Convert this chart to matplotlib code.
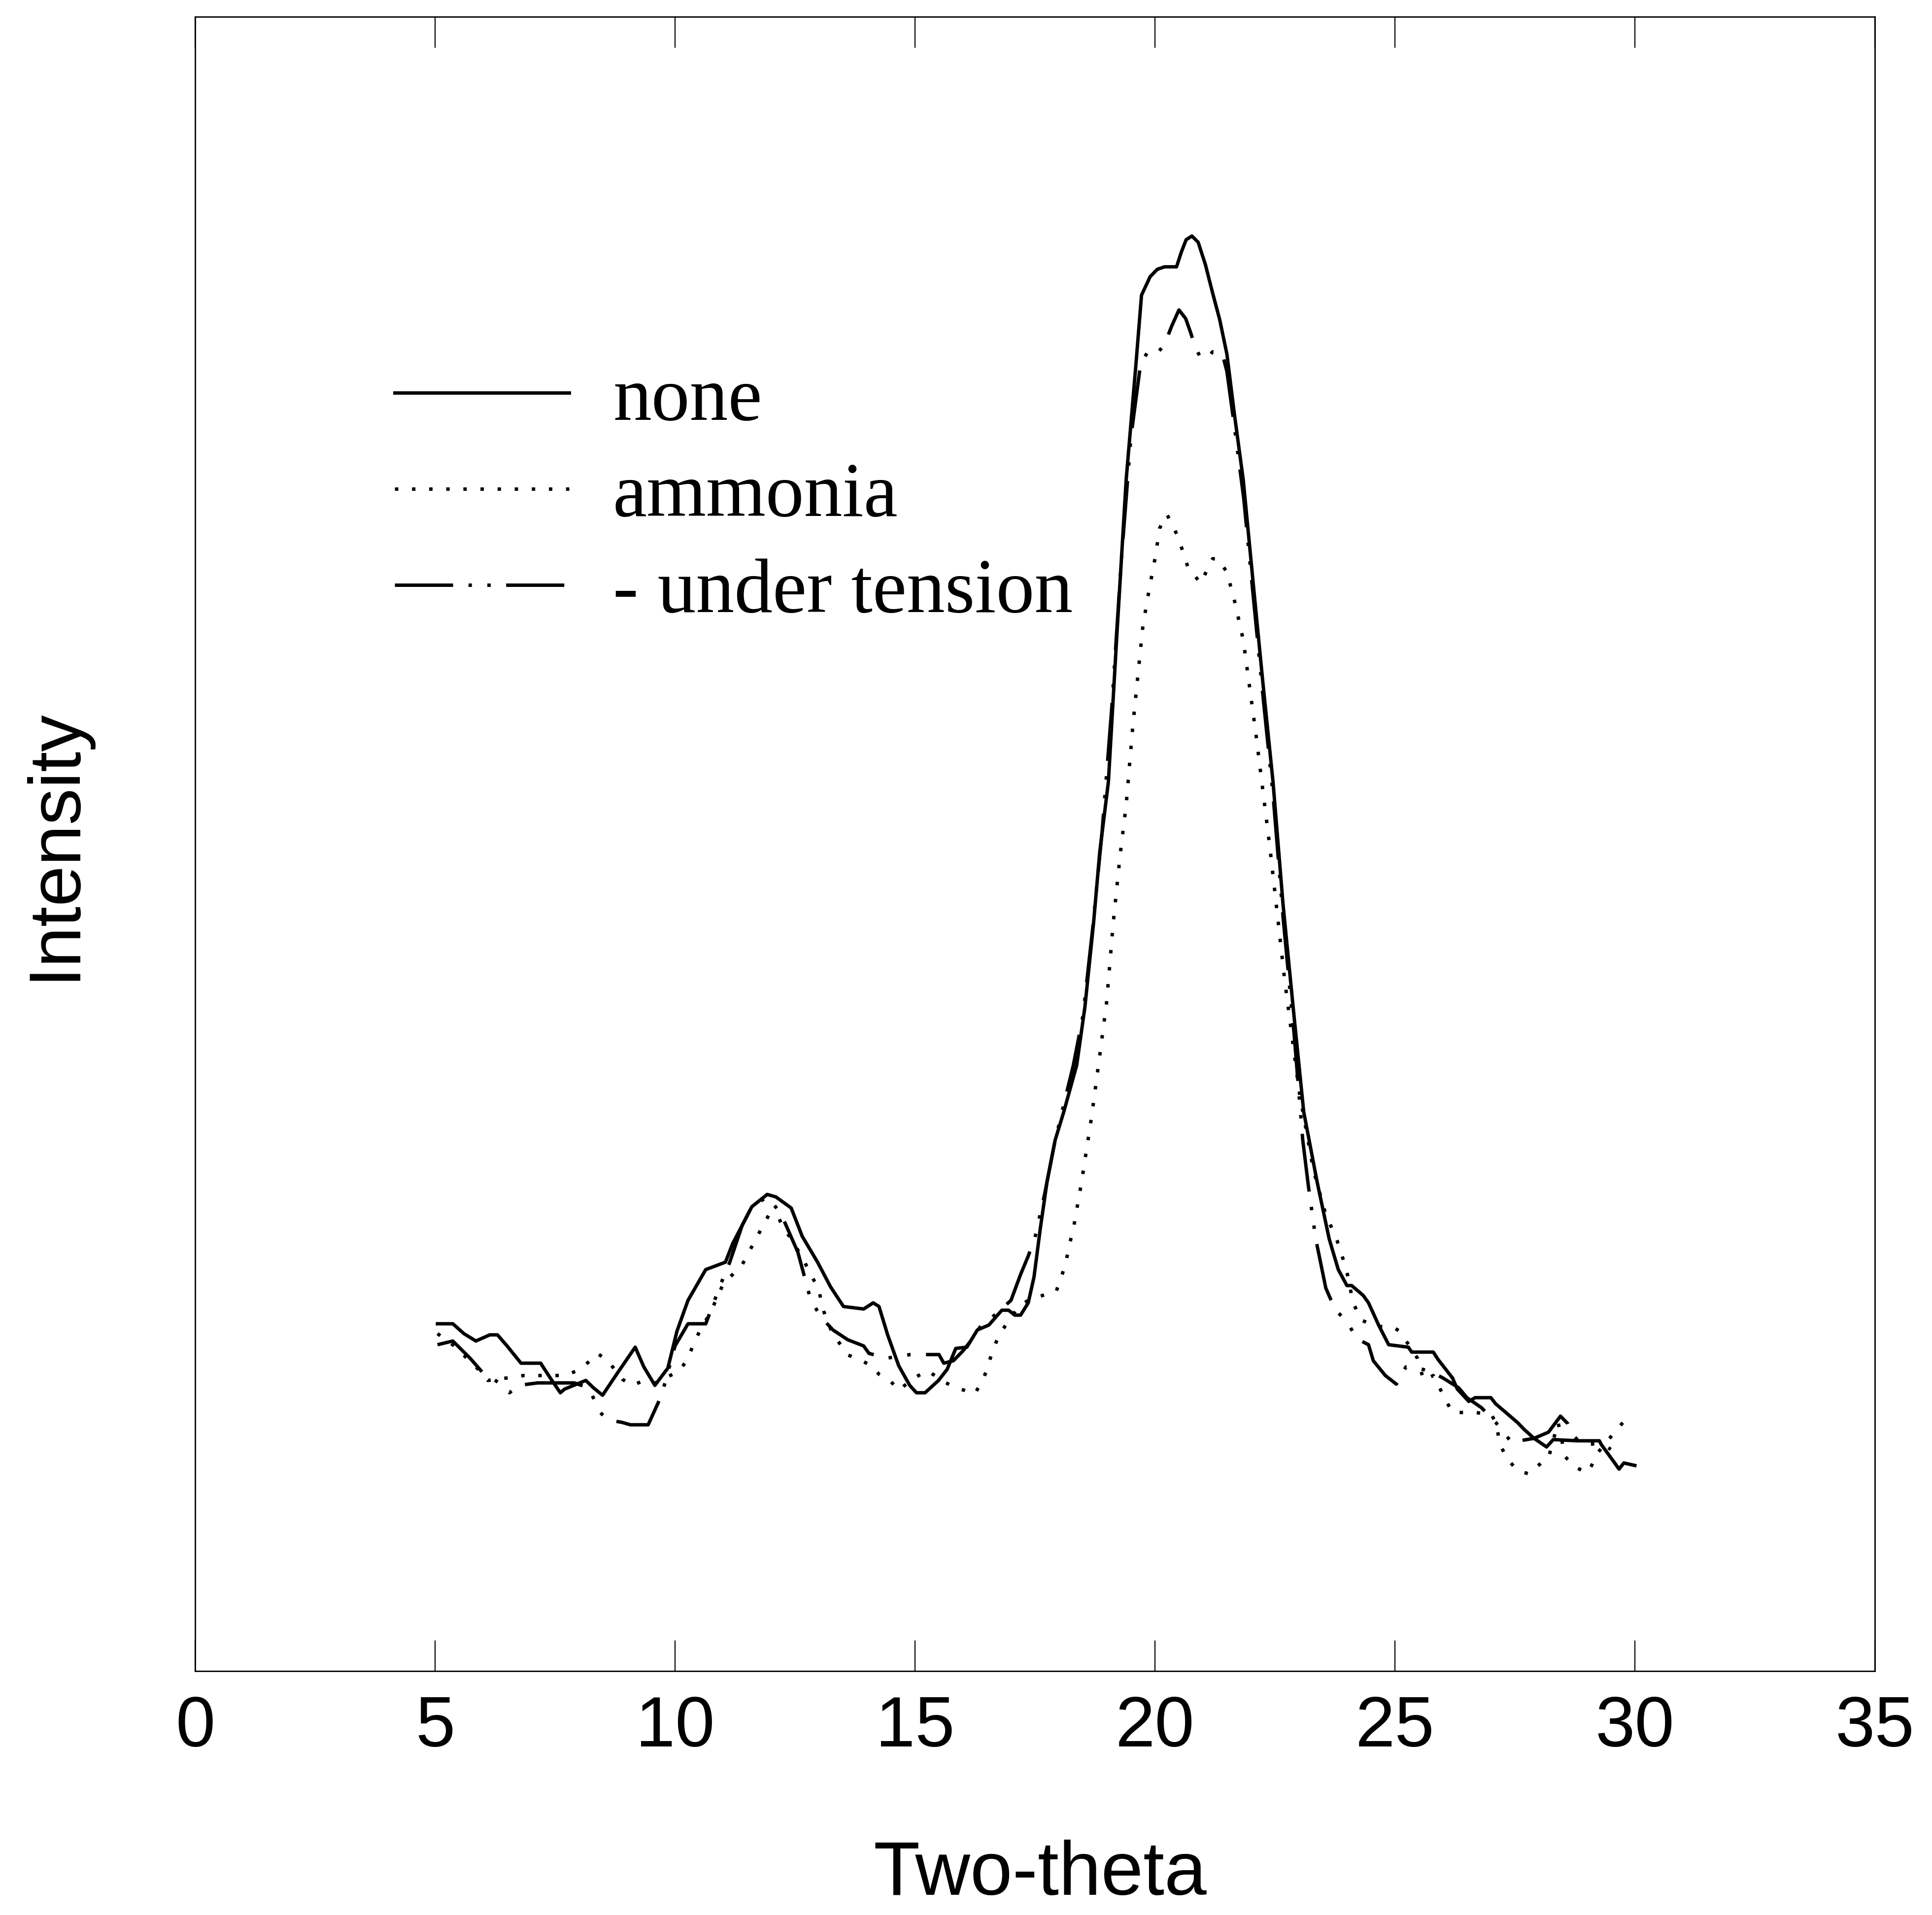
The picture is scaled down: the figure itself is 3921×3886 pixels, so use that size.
import matplotlib
matplotlib.use("Agg")
import matplotlib.pyplot as plt

# two-theta / intensity (arbitrary intensity units)
none_x = [5.05, 5.37, 5.6, 5.85, 6.14, 6.3, 6.5, 6.79, 7.2, 7.4, 7.61, 7.7, 8.14, 8.3, 8.49,
          8.8, 9.17, 9.35, 9.58, 9.85, 10.04, 10.27, 10.64, 11.05, 11.2, 11.4, 11.6, 11.92, 12.1,
          12.42, 12.65, 12.97, 13.24, 13.51, 13.93, 14.13, 14.25, 14.43, 14.66, 14.89, 15.03,
          15.21, 15.35, 15.49, 15.67, 15.85, 16.08, 16.3, 16.54, 16.81, 16.95, 17.08, 17.2,
          17.36, 17.48, 17.61, 17.75, 17.92, 18.1, 18.37, 18.54, 18.72, 18.85, 19.03, 19.2,
          19.4, 19.6, 19.72, 19.9, 20.05, 20.2, 20.45, 20.55, 20.65, 20.77, 20.9, 21.05, 21.2,
          21.35, 21.5, 21.65, 21.84, 22.05, 22.25, 22.46, 22.67, 22.9, 23.1, 23.38, 23.63,
          23.82, 24.0, 24.1, 24.34, 24.45, 24.66, 24.87, 25.28, 25.35, 25.8, 25.9, 26.2, 26.3,
          26.54, 26.67, 27.0, 27.1, 27.55, 27.7, 27.9, 28.16, 28.3, 28.8, 29.26, 29.3, 29.58,
          29.67, 29.77, 30.0]
none_y = [280, 280, 272, 266, 271, 271, 262, 248, 248, 236, 224, 227, 234, 228, 222,
          240, 261, 245, 230, 244, 274, 299, 324, 330, 345, 360, 375, 385, 383,
          374, 351, 330, 310, 294, 292, 297, 294, 271, 246, 230, 224,
          224, 229, 234, 243, 260, 261, 275, 279, 291, 291, 287, 287,
          297, 318, 357, 395, 429, 452, 490, 537, 605, 663, 720, 835,
          965, 1057, 1115, 1130, 1136, 1138, 1138, 1150, 1160, 1163, 1158, 1140, 1117,
          1095, 1067, 1020, 965, 880, 800, 720, 620, 529, 452, 395, 349,
          324, 311, 311, 303, 297, 279, 263, 261, 257, 257, 251, 236, 227,
          217, 220, 220, 215, 200, 194, 187, 180, 186, 185, 185, 182, 167,
          162, 167, 165]

ammonia_x = [5.05, 5.4, 5.9, 6.1, 6.5, 6.85, 7.3, 7.7, 7.97, 8.2, 8.38, 8.6, 8.9, 9.1, 9.3,
             9.6, 10.1, 10.27, 10.38, 10.5, 10.75, 10.85, 11.0, 11.4, 11.7, 11.95, 12.14,
             12.25, 12.44, 12.7, 12.99, 13.1, 13.25, 13.43, 13.58, 13.84, 14.09, 14.25, 14.5,
             14.66, 14.85, 15.03, 15.26, 15.6, 15.85, 16.03, 16.24, 16.4, 16.5, 16.6, 16.7,
             16.84, 17.16, 17.4, 17.66, 17.94, 18.05, 18.14, 18.21, 18.3, 18.47, 18.68, 18.85,
             18.99, 19.13, 19.27, 19.4, 19.54, 19.75, 19.87, 20.0, 20.1, 20.25, 20.48, 20.68,
             20.95, 21.2, 21.32, 21.5, 21.67, 21.84, 22.1, 22.4, 22.7, 23.0, 23.3, 23.55, 23.8,
             23.99, 24.13, 24.3, 24.6, 24.97, 25.1, 25.47, 25.6, 25.8, 26.1, 26.2, 26.6, 27.0,
             27.1, 27.2, 27.35, 27.55, 27.8, 27.95, 28.2, 28.4, 28.55, 28.74, 29.0, 29.1, 29.2,
             29.6, 29.8]
ammonia_y = [272, 262, 243, 234, 236, 238, 238, 238, 242, 249, 256, 250, 235, 230, 233,
             232, 242, 252, 263, 273, 290, 299, 312, 328, 350, 368, 368,
             358, 348, 330, 308, 290, 275, 264, 255, 251, 246, 239, 233,
             226, 232, 237, 242, 233, 228, 226, 223, 233, 243, 256, 266,
             276, 294, 300, 303, 306, 318, 329, 343, 357, 395, 448, 498,
             540, 605, 659, 701, 766, 847, 874, 901, 926, 937, 919, 895,
             881, 901, 901, 890, 865, 835, 760, 665, 560, 470, 405, 370, 347,
             324, 297, 283, 278, 277, 274, 252, 234, 238, 215, 208, 208, 207,
             200, 181, 170, 161, 158, 164, 171, 200, 172, 164, 159, 165, 174,
             193, 202]

tension_x = [5.05, 5.37, 5.73, 6.0, 6.38, 6.55, 6.74, 7.14, 7.5, 7.9, 8.2, 8.44, 8.6, 8.89,
             9.07, 9.44, 9.72, 10.0, 10.27, 10.64, 10.95, 11.14, 11.4, 11.6, 11.92, 12.2,
             12.56, 12.83, 13.05, 13.29, 13.6, 13.93, 14.04, 14.4, 14.9, 15.5, 15.6, 15.8,
             16.0, 16.2, 16.4, 16.6, 16.8, 17.0, 17.2, 17.36, 17.5, 17.7, 17.9, 18.1, 18.3,
             18.5, 18.7, 18.9, 19.1, 19.3, 19.5, 19.7, 19.85, 20.03, 20.2, 20.35, 20.5, 20.64,
             20.74, 20.83, 20.95, 21.1, 21.2, 21.4, 21.5, 21.65, 21.85, 22.05, 22.25, 22.46,
             22.67, 22.9, 23.08, 23.2, 23.35, 23.56, 23.75, 24.03, 24.2, 24.45, 24.55, 24.8,
             25.03, 25.23, 25.4, 25.76, 26.0, 26.33, 26.5, 26.8, 27.1, 27.3, 27.45, 27.6,
             27.9, 28.2, 28.45, 28.6, 28.7, 28.9, 29.0, 29.3, 29.5]
tension_y = [263, 266, 252, 240, 231, 224, 230, 232, 232, 232, 228, 208, 202, 200,
             198, 198, 222, 262, 280, 280, 312, 330, 360, 375, 383, 370,
             338, 299, 285, 275, 267, 262, 256, 252, 255, 255, 248, 250,
             258, 268, 280, 285, 292, 299, 320, 335, 350, 385, 425, 458, 490,
             530, 600, 680, 780, 900, 1000, 1059, 1069, 1067, 1075, 1090, 1103, 1096,
             1085, 1074, 1064, 1064, 1069, 1068, 1053, 1010, 950, 870, 790, 710,
             610, 515, 429, 391, 349, 309, 292, 280, 268, 263, 250, 238,
             231, 245, 245, 241, 236, 228, 220, 212, 200, 190, 183, 185,
             187, 192, 205, 199, 190, 182, 182, 183, 178]

labels = ["none", "ammonia", "- under tension"]
x_ticks = [0, 5, 10, 15, 20, 25, 30, 35]

fig = plt.figure(figsize=(39.21, 38.87), dpi=100)
ax = fig.add_axes([0.101, 0.1273, 0.8694, 0.8637])

lw = 5.0
ax.plot(none_x, none_y, color="black", lw=lw, ls="-", label=labels[0])
ax.plot(ammonia_x, ammonia_y, color="black", lw=lw, ls=(0, (1, 4)), label=labels[1])
ax.plot(tension_x, tension_y, color="black", lw=lw, ls=(0, (17, 4.5, 1, 4.5, 1, 4.5)),
        label=labels[2])

ax.set_xlim(0, 35)
ax.set_ylim(-2, 1341)
ax.set_xticks(x_ticks)
ax.set_yticks([])
ax.tick_params(axis="x", direction="in", top=True, length=45, width=1.6, pad=34,
               labelsize=104)
for lab in ax.get_xticklabels():
    lab.set_fontfamily("Liberation Sans")
for sp in ax.spines.values():
    sp.set_linewidth(2)

ax.set_xlabel("Two-theta", fontsize=111, family="Liberation Sans")
ax.xaxis.set_label_coords(0.503, -0.123)
ax.xaxis.label.set_va("center")
ax.set_ylabel("Intensity", fontsize=107, family="Liberation Sans")
ax.yaxis.set_label_coords(-0.0833, 0.5)
ax.yaxis.label.set_va("center")

ax.legend(loc="upper left", bbox_to_anchor=(0.1187, 0.789), frameon=False,
          prop={"family": "Liberation Serif", "size": 112},
          handlelength=2.28, handletextpad=0.57, labelspacing=0.34,
          borderpad=0, borderaxespad=0)

fig.savefig("out.png", dpi=100)
